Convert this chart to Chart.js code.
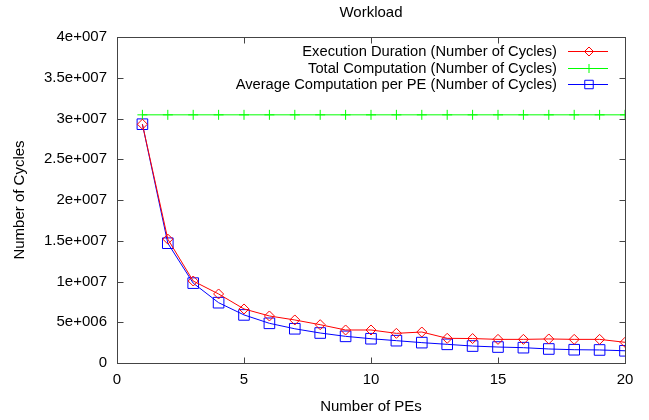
<!DOCTYPE html>
<html>
<head>
<meta charset="utf-8">
<script src="https://cdn.jsdelivr.net/npm/chart.js@4"></script>
<style>
  html, body { margin: 0; padding: 0; background: #fff; }
  #wrap { width: 649px; height: 420px; }
</style>
</head>
<body>
<div id="wrap"><canvas id="workloadChart" width="649" height="420"></canvas></div>
<script>
// data
const peCounts = [1, 2, 3, 4, 5, 6, 7, 8, 9, 10, 11, 12, 13, 14, 15, 16, 17, 18, 19, 20];
const execDuration = [29.3e6, 15.2e6, 10.06e6, 8.47e6, 6.63e6, 5.77e6, 5.28e6, 4.7e6, 4.05e6, 4.05e6,
  3.64e6, 3.8e6, 3.03e6, 3.0e6, 2.9e6, 2.9e6, 2.95e6, 2.9e6, 2.9e6, 2.54e6];
const totalComputation = [30.45e6, 30.45e6, 30.45e6, 30.45e6, 30.45e6, 30.45e6, 30.45e6, 30.45e6, 30.45e6, 30.45e6,
  30.45e6, 30.45e6, 30.45e6, 30.45e6, 30.45e6, 30.45e6, 30.45e6, 30.45e6, 30.45e6, 30.45e6];
const avgComputation = [29.3e6, 14.7e6, 9.8e6, 7.4e6, 5.9e6, 4.87e6, 4.2e6, 3.68e6, 3.27e6, 2.98e6,
  2.74e6, 2.5e6, 2.29e6, 2.08e6, 1.96e6, 1.88e6, 1.72e6, 1.63e6, 1.6e6, 1.5e6];
const seriesNames = [
  "Execution Duration (Number of Cycles)",
  "Total Computation (Number of Cycles)",
  "Average Computation per PE (Number of Cycles)"
];
const seriesColors = ["#ff0000", "#00ff00", "#0000ff"];
const yTickLabels = ["0", "5e+006", "1e+007", "1.5e+007", "2e+007", "2.5e+007", "3e+007", "3.5e+007", "4e+007"];
const xTickLabels = ["0", "5", "10", "15", "20"];

const FONT = { family: "'Liberation Sans', Arial, sans-serif", size: 15 };
const AXIS = "#444";

function points(values) {
  return peCounts.map((p, i) => ({ x: p, y: values[i] }));
}

// gnuplot style frame, inward ticks and legend
const gnuplotFrame = {
  id: "gnuplotFrame",
  afterDatasetsDraw(chart) {
    const { ctx, chartArea: a, scales } = chart;
    const L = Math.round(a.left) + 0.5, R = Math.round(a.right) + 0.5;
    const T = Math.round(a.top) + 0.5, B = Math.round(a.bottom) + 0.5;
    ctx.save();
    ctx.strokeStyle = AXIS;
    ctx.lineWidth = 1;
    ctx.strokeRect(L, T, R - L, B - T);
    ctx.beginPath();
    scales.y.ticks.forEach(t => {
      const y = Math.round(scales.y.getPixelForValue(t.value)) + 0.5;
      ctx.moveTo(L, y); ctx.lineTo(L + 6, y);
      ctx.moveTo(R, y); ctx.lineTo(R - 6, y);
    });
    scales.x.ticks.forEach(t => {
      const x = Math.round(scales.x.getPixelForValue(t.value)) + 0.5;
      ctx.moveTo(x, B); ctx.lineTo(x, B - 6);
      ctx.moveTo(x, T); ctx.lineTo(x, T + 6);
    });
    ctx.stroke();

    // legend: text right aligned, sample on the right
    ctx.font = "14.7px " + FONT.family;
    ctx.textAlign = "right";
    ctx.textBaseline = "middle";
    chart.data.datasets.forEach((ds, i) => {
      const y = Math.round(51 + i * 16.5) + 0.5;
      ctx.fillStyle = "#000";
      ctx.fillText(ds.label, 557, y);
      ctx.beginPath();
      ctx.strokeStyle = seriesColors[i];
      ctx.lineWidth = 1;
      ctx.moveTo(568, y);
      ctx.lineTo(608, y);
      ctx.stroke();
      ctx.fillStyle = "rgba(0,0,0,0)";
      Chart.helpers.drawPoint(ctx, {
        pointStyle: ds.pointStyle,
        radius: ds.pointStyle === "rect" ? 6 : 4.5,
        rotation: 0,
        borderWidth: 1
      }, 589, y);
    });
    ctx.restore();
  }
};

const ctx = document.getElementById("workloadChart");
new Chart(ctx, {
  type: "line",
  data: {
    datasets: [
      {
        label: seriesNames[0],
        data: points(execDuration),
        borderColor: seriesColors[0],
        pointBorderColor: seriesColors[0],
        pointBackgroundColor: "transparent",
        pointStyle: "rectRot",
        pointRadius: 5,
        borderWidth: 1,
        pointBorderWidth: 1
      },
      {
        label: seriesNames[1],
        data: points(totalComputation),
        borderColor: seriesColors[1],
        pointBorderColor: seriesColors[1],
        pointBackgroundColor: "transparent",
        pointStyle: "cross",
        pointRadius: 5,
        borderWidth: 1,
        pointBorderWidth: 1
      },
      {
        label: seriesNames[2],
        data: points(avgComputation),
        borderColor: seriesColors[2],
        pointBorderColor: seriesColors[2],
        pointBackgroundColor: "transparent",
        pointStyle: "rect",
        pointRadius: 7.5,
        borderWidth: 1,
        pointBorderWidth: 1
      }
    ]
  },
  options: {
    responsive: false,
    animation: false,
    layout: { padding: { left: 0, right: 24, top: 0, bottom: 0 } },
    plugins: {
      legend: { display: false },
      tooltip: { enabled: false },
      title: {
        display: true,
        text: "Workload",
        fullSize: false,
        color: "#000",
        font: { family: FONT.family, size: FONT.size, weight: "normal" },
        padding: { top: 4, bottom: 15 }
      }
    },
    scales: {
      x: {
        type: "linear",
        min: 0,
        max: 20,
        grid: { display: false, drawTicks: false },
        border: { display: false },
        afterFit: s => { s.height = 57; },
        ticks: {
          stepSize: 5,
          padding: 8,
          maxRotation: 0,
          color: "#000",
          font: FONT,
          callback: (v, i) => xTickLabels[i]
        },
        title: {
          display: true,
          text: "Number of PEs",
          color: "#000",
          font: FONT,
          padding: { top: 0, bottom: 4 }
        }
      },
      y: {
        min: 0,
        max: 4e7,
        grid: { display: false, drawTicks: false },
        border: { display: false },
        afterFit: s => { s.width = 117; },
        ticks: {
          stepSize: 5e6,
          padding: 10,
          color: "#000",
          font: FONT,
          callback: (v, i) => yTickLabels[i]
        },
        title: {
          display: true,
          text: "Number of Cycles",
          color: "#000",
          font: FONT,
          padding: { top: 11, bottom: 0 }
        }
      }
    }
  },
  plugins: [gnuplotFrame]
});
</script>
</body>
</html>
